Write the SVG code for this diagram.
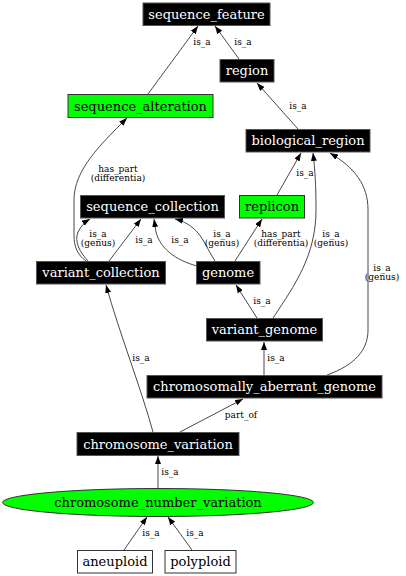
<svg xmlns="http://www.w3.org/2000/svg" width="406" height="576" viewBox="0 0 406 576">
<defs>
<marker id="ah" viewBox="0 0 8 6" refX="8" refY="3" markerWidth="8" markerHeight="6" markerUnits="userSpaceOnUse" orient="auto">
<path d="M0,0 L8,3 L0,6 z" fill="#000"/>
</marker>
<style>
.dk rect{fill:#000;stroke:#555;stroke-width:1}
.gr rect,.gr ellipse{fill:#00ff00;stroke:#333;stroke-width:1}
.wh rect{fill:#fff;stroke:#333;stroke-width:1}
.node text{font-family:"DejaVu Serif",serif;font-size:13px;text-anchor:middle}
.dk text{fill:#fff}
.gr text,.wh text{fill:#000}
#edges path{fill:none;stroke:#333;stroke-width:0.9;marker-end:url(#ah)}
#edges text{font-family:"DejaVu Serif",serif;font-size:9px;text-anchor:middle;fill:#000}
</style>
</defs>
<rect width="406" height="576" fill="#fff"/>
<g id="edges">
<path d="M148,94 L198,26"/>
<text x="202" y="45">is_a</text>
<path d="M239,59 L215,26"/>
<text x="243" y="45">is_a</text>
<path d="M298,129 L257,83"/>
<text x="298" y="109">is_a</text>
<path d="M277,195 L301,153"/>
<text x="305" y="176">is_a</text>
<path d="M273,318 C295,285 316,255 316,210 C316,185 315,170 313,153"/>
<text x="331" y="237">is_a</text><text x="331" y="246">(genus)</text>
<path d="M327,375 C355,365 368,350 368,330 L368,210 C368,185 355,168 330,153"/>
<text x="382" y="271">is_a</text><text x="382" y="280">(genus)</text>
<path d="M86,261 C78,255 74,248 74,235 L74,200 C74,170 100,145 127,118"/>
<text x="118" y="172">has_part</text><text x="118" y="180.5">(differentia)</text>
<path d="M88,261 C80,252 74,242 78,232 C81,226 85,222 90,219"/>
<text x="98" y="237">is_a</text><text x="98" y="246">(genus)</text>
<path d="M109,261 L141,219"/>
<text x="144" y="243">is_a</text>
<path d="M197,266 C175,260 160,248 156,232 L154,219"/>
<text x="180" y="243">is_a</text>
<path d="M215,261 C208,250 204,240 198,233 C192,226 184,221 175,219"/>
<text x="222" y="237">is_a</text><text x="222" y="246">(genus)</text>
<path d="M235,261 L262,219"/>
<text x="281" y="237">has_part</text><text x="281" y="246">(differentia)</text>
<path d="M257,318 L236,285"/>
<text x="262" y="304">is_a</text>
<path d="M264,375 L264,342"/>
<text x="276" y="361">is_a</text>
<path d="M153,432 C140,385 120,335 106,285"/>
<text x="141" y="361">is_a</text>
<path d="M180,432 L243,399"/>
<text x="241" y="418">part_of</text>
<path d="M158,488 L158,456"/>
<text x="170" y="475">is_a</text>
<path d="M124,550 L147,517"/>
<text x="151" y="536">is_a</text>
<path d="M192,550 L168,517"/>
<text x="195" y="536">is_a</text>
</g>
<g id="sequence_feature" class="node dk"><rect x="143" y="3" width="127" height="22.5"/><text x="206.5" y="18.5">sequence_feature</text></g>
<g id="region" class="node dk"><rect x="220" y="59.5" width="54" height="22.5"/><text x="247" y="75">region</text></g>
<g id="sequence_alteration" class="node gr"><rect x="68" y="94.5" width="145" height="23"/><text x="140.5" y="110.5">sequence_alteration</text></g>
<g id="biological_region" class="node dk"><rect x="246" y="129.5" width="124" height="22.5"/><text x="308" y="145">biological_region</text></g>
<g id="sequence_collection" class="node dk"><rect x="80.5" y="195.5" width="144" height="22.5"/><text x="152.5" y="211">sequence_collection</text></g>
<g id="replicon" class="node gr"><rect x="239.5" y="195.5" width="65" height="22.5"/><text x="272" y="211">replicon</text></g>
<g id="variant_collection" class="node dk"><rect x="36.5" y="261.5" width="129" height="22.5"/><text x="101" y="277">variant_collection</text></g>
<g id="genome" class="node dk"><rect x="196.5" y="261.5" width="63.5" height="22.5"/><text x="228" y="277">genome</text></g>
<g id="variant_genome" class="node dk"><rect x="206.5" y="318.5" width="116" height="22.5"/><text x="264.5" y="334">variant_genome</text></g>
<g id="chromosomally_aberrant_genome" class="node dk"><rect x="147" y="375.5" width="235" height="22.5"/><text x="264.5" y="391">chromosomally_aberrant_genome</text></g>
<g id="chromosome_variation" class="node dk"><rect x="77" y="432.5" width="162" height="23"/><text x="158" y="448.5">chromosome_variation</text></g>
<g id="chromosome_number_variation" class="node gr"><ellipse cx="158" cy="502.5" rx="155.5" ry="14"/><text x="158" y="507">chromosome_number_variation</text></g>
<g id="aneuploid" class="node wh"><rect x="77.5" y="550.5" width="75" height="22.5"/><text x="115" y="566">aneuploid</text></g>
<g id="polyploid" class="node wh"><rect x="165" y="550.5" width="71" height="22.5"/><text x="200.5" y="566">polyploid</text></g>
</svg>
